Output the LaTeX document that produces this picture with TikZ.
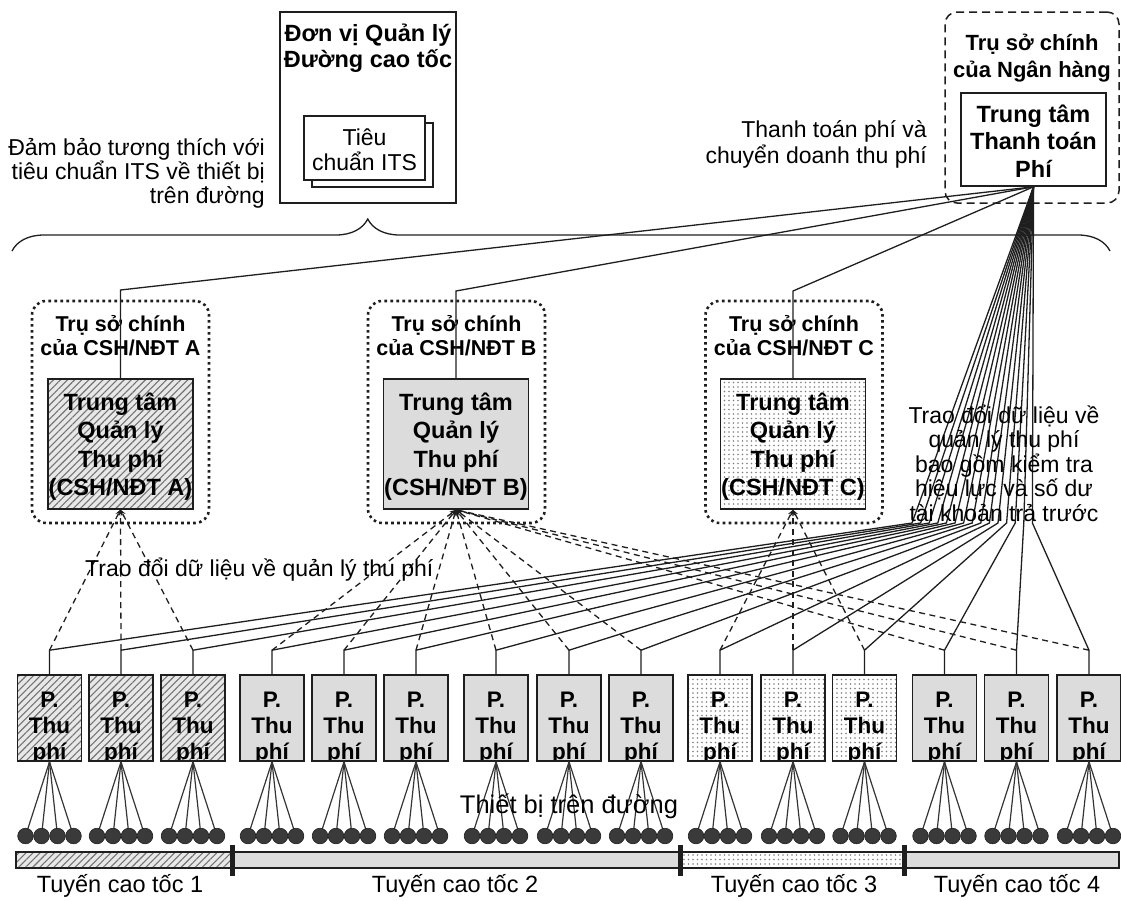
\documentclass[tikz,border=0pt]{standalone}
\usepackage{fontspec}
\setmainfont{Liberation Sans}
\usetikzlibrary{patterns,patterns.meta,arrows.meta,decorations.pathreplacing}
\newcommand{\txtsize}[2]{\fontsize{#1pt}{#2pt}\selectfont\lineskiplimit=-200pt\relax}
\definecolor{ink}{RGB}{30,30,30}
\definecolor{boxgray}{RGB}{220,220,220}
\definecolor{devgray}{RGB}{58,58,58}
\tikzset{
  wire/.style={draw=ink, line width=1.3pt},
  dwire/.style={draw=ink, line width=1.3pt, dash pattern=on 6pt off 4.5pt, -{Stealth[length=6pt,width=5pt]}},
  leg/.style={draw=ink!90, line width=1.2pt},
  frame/.style={draw=ink, line width=1.6pt, inner sep=0pt},
  hatchfill/.style={preaction={fill=gray!18}, pattern={Lines[angle=45,distance=5pt,line width=1.1pt]}, pattern color=black!55},
  grayfill/.style={fill=boxgray},
  dotfill/.style={preaction={fill=white}, pattern={Dots[distance=4.5pt,radius=0.9pt]}, pattern color=black!50},
  hq/.style={draw=ink, line width=2.6pt, dash pattern=on 2.6pt off 3.4pt, rounded corners=14pt, inner sep=0pt, minimum width=177pt, minimum height=222pt},
  center/.style={frame, minimum width=145pt, minimum height=130pt},
  booth/.style={frame, minimum width=64pt, minimum height=86pt,
    path picture={\node[anchor=base, inner sep=0pt, align=center, font={\bfseries\txtsize{22.5}{26}}]
      at ([yshift=-84pt]path picture bounding box.north) {P.\\Thu\\phí};}},
  dev/.style={circle, fill=devgray, draw=ink, line width=0.6pt, minimum size=15.6pt, inner sep=0pt},
  lbl/.style={inner sep=0pt, align=center, anchor=base, font={\txtsize{23}{24}}},
  blbl/.style={inner sep=0pt, align=center, anchor=base, font={\bfseries\txtsize{23.5}{28.5}}}
}
\begin{document}
\begin{tikzpicture}[x=1pt,y=-1pt]
\useasboundingbox (0,0) rectangle (1121,900);

% ---- expressway management unit with its ITS standard ----
% (text nodes are anchored at the baseline of their last line)
\node[frame, minimum width=176pt, minimum height=191pt] (mgmt) at (368,107.5) {};
\node[blbl, font={\bfseries\txtsize{23.5}{26}}] (mgmtT) at (368,67) {Đơn vị Quản lý\\Đường cao tốc};
\node[frame, line width=1.3pt, fill=white, minimum width=121pt, minimum height=64pt] (docB) at (372.5,155) {};
\node[frame, line width=1.3pt, fill=white, minimum width=121pt, minimum height=64pt] (docF) at (364.5,148) {};
\node[lbl, font={\txtsize{23}{25}}] (docT) at (364.5,170) {Tiêu\\chuẩn ITS};
\node[lbl, align=right, anchor=base east] (itsL) at (265,203) {Đảm bảo tương thích với\\tiêu chuẩn ITS về thiết bị\\trên đường};

% ---- bank headquarters ----
\node[draw=ink, line width=1.5pt, dash pattern=on 8pt off 5pt, rounded corners=12pt, inner sep=0pt,
      minimum width=174pt, minimum height=191pt] (bank) at (1032,107.5) {};
\node[blbl, font={\bfseries\txtsize{22}{27}}] (bankT) at (1032,77) {Trụ sở chính\\của Ngân hàng};
\node[frame, fill=white, minimum width=145pt, minimum height=93pt] (pay) at (1033.5,139.5) {};
\node[blbl, font={\bfseries\txtsize{23.5}{27.5}}] (payT) at (1033.5,177) {Trung tâm\\Thanh toán\\Phí};
\node[lbl, align=right, anchor=base east, font={\txtsize{23}{26}}] (payL) at (927,163) {Thanh toán phí và\\chuyển doanh thu phí};

% ---- brace over the operators ----
\coordinate (brL) at (12,251);
\coordinate (brR) at (1110,251);
\draw[wire, decorate, decoration={brace, amplitude=32pt, aspect=0.324}] (brL) -- (brR);

% ---- operator headquarters and toll management centres ----
\node[hq] (hqA) at (120.5,412) {};
\node[hq] (hqB) at (456.5,412) {};
\node[hq] (hqC) at (794,412) {};
\node[center, hatchfill] (ca) at (120.5,444) {};
\node[center, grayfill] (cb) at (456,444) {};
\node[center, dotfill] (cc) at (793,444) {};
\node[blbl, font={\bfseries\txtsize{21.5}{24}}] (hqAT) at (120.5,355) {Trụ sở chính\\của CSH/NĐT A};
\node[blbl, font={\bfseries\txtsize{21.5}{24}}] (hqBT) at (456.5,355) {Trụ sở chính\\của CSH/NĐT B};
\node[blbl, font={\bfseries\txtsize{21.5}{24}}] (hqCT) at (794,355) {Trụ sở chính\\của CSH/NĐT C};
\node[blbl] (caT) at (120.5,495.5) {Trung tâm\\Quản lý\\Thu phí\\(CSH/NĐT A)};
\node[blbl] (cbT) at (456,495.5) {Trung tâm\\Quản lý\\Thu phí\\(CSH/NĐT B)};
\node[blbl] (ccT) at (793,495.5) {Trung tâm\\Quản lý\\Thu phí\\(CSH/NĐT C)};

% payment centre to each operator
\coordinate (ka) at (120.5,290);
\coordinate (kb) at (456,291);
\coordinate (kc) at (793,291);
\draw[wire] (pay.south) -- (ka) -- (ca.north);
\draw[wire] (pay.south) -- (kb) -- (cb.north);
\draw[wire] (pay.south) -- (kc) -- (cc.north);

% ---- toll offices ----
\foreach \n/\x in {1/49.5,2/121,3/193}
  \node[booth, hatchfill] (b\n) at (\x,718) {};
\foreach \n/\x in {4/272,5/344,6/416,7/496,8/569,9/641,13/944.5,14/1016.5,15/1089}
  \node[booth, grayfill] (b\n) at (\x,718) {};
\foreach \n/\x in {10/720,11/793,12/864.5}
  \node[booth, dotfill] (b\n) at (\x,718) {};

% stubs, links to the payment centre and to the owning operator
\foreach \n in {1,...,15}{
  \coordinate (t\n) at ([yshift=24pt]b\n.north);
  \pgfmathsetmacro\fx{912+(\n-1)*8.6}
  \coordinate (f\n) at (\fx,523);
  \draw[wire] (b\n.north) -- (t\n) -- (f\n) -- (pay.south);
}
\foreach \n in {1,2,3} \draw[dwire] (t\n) -- (ca.south);
\foreach \n in {4,...,9,13,14,15} \draw[dwire] (t\n) -- (cb.south);
\foreach \n in {10,11,12} \draw[dwire] (t\n) -- (cc.south);

% ---- roadside devices ----
\foreach \n/\x in {1/49.5,2/121,3/193,4/272,5/344,6/416,7/496,8/569,9/641,10/720,11/793,12/864.5,13/944.5,14/1016.5,15/1089}{
  \foreach \k/\d in {1/-24,2/-8,3/8,4/24}{
    \coordinate (d\n-\k) at ({\x+\d},836);
    \draw[leg] (b\n.south) -- (d\n-\k);
  }
  \foreach \k in {1,...,4} \node[dev] (dev\n-\k) at (d\n-\k) {};
}

% ---- expressway routes ----
\draw[frame, hatchfill] (16,852) rectangle (232,868);
\draw[frame, grayfill] (232,852) rectangle (680,868);
\draw[frame, dotfill] (680,852) rectangle (904,868);
\draw[frame, grayfill] (904,852) rectangle (1119,868);
\fill[ink] (229.5,845) rectangle (234.5,876);
\fill[ink] (677.5,845) rectangle (682.5,876);
\fill[ink] (901.5,845) rectangle (906.5,876);

% ---- labels ----
\node[lbl, font={\txtsize{23}{24.5}}] (exL) at (1004,521) {Trao đổi dữ liệu về\\quản lý thu phí\\bao gồm kiểm tra\\hiệu lực và số dư\\tài khoản trả trước};
\node[lbl, anchor=base west] (midL) at (85,576) {Trao đổi dữ liệu về quản lý thu phí};
\node[lbl, font={\txtsize{25.5}{26}}] (devL) at (569,813) {Thiết bị trên đường};
\node[lbl, font={\txtsize{23.5}{24}}] (r1) at (120,892) {Tuyến cao tốc 1};
\node[lbl, font={\txtsize{23.5}{24}}] (r2) at (455,892) {Tuyến cao tốc 2};
\node[lbl, font={\txtsize{23.5}{24}}] (r3) at (794,892) {Tuyến cao tốc 3};
\node[lbl, font={\txtsize{23.5}{24}}] (r4) at (1017,892) {Tuyến cao tốc 4};
\end{tikzpicture}
\end{document}
